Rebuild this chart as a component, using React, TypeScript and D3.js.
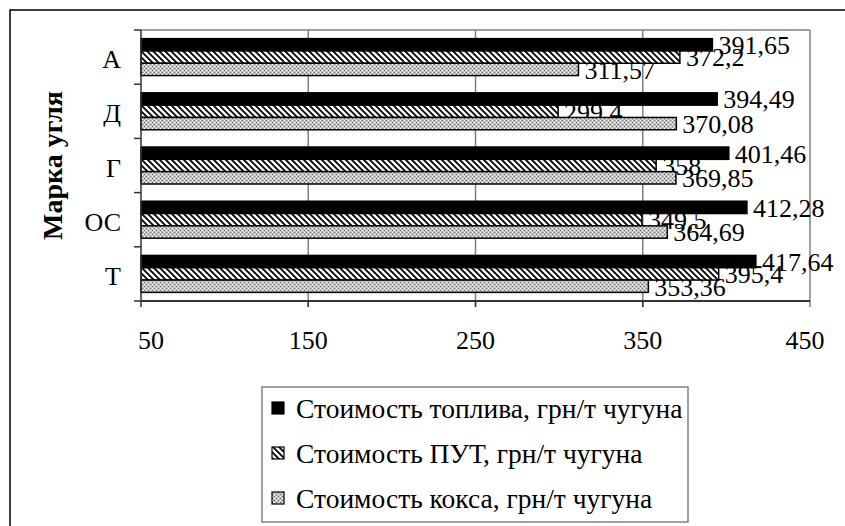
import React from "react";
import * as d3 from "d3";

const categories = ["А", "Д", "Г", "ОС", "Т"];
const seriesNames = [
  "Стоимость топлива, грн/т чугуна",
  "Стоимость ПУТ, грн/т чугуна",
  "Стоимость кокса, грн/т чугуна",
];
const fuelCost = [391.65, 394.49, 401.46, 412.28, 417.64];
const putCost = [372.2, 299.4, 358, 349.5, 395.4];
const cokeCost = [311.57, 370.08, 369.85, 364.69, 353.36];
const xTicks = [50, 150, 250, 350, 450];
const axisTitle = "Марка угля";

const seriesValues = [fuelCost, putCost, cokeCost];
const fills = ["#000000", "url(#hatch)", "url(#dots)"];

const FONT = "Liberation Serif";

export default function App() {
  const W = 845;
  const H = 526;
  const plot = { left: 141, right: 810, top: 30, bottom: 301 };

  const x = d3.scaleLinear().domain([50, 450]).range([plot.left, plot.right]);
  const y = d3
    .scaleBand<string>()
    .domain(categories)
    .range([plot.top, plot.bottom])
    .paddingInner(0)
    .paddingOuter(0);

  const band = y.bandwidth();
  const gapRatio = 1.4;
  const barH = band / (3 + gapRatio);
  const inner = d3
    .scaleBand<number>()
    .domain([0, 1, 2])
    .range([(gapRatio / 2) * barH, band - (gapRatio / 2) * barH])
    .padding(0);

  const fmt = (v: number) => String(v).replace(".", ",");
  const boundaries = [...categories.map((c) => y(c) as number), plot.bottom];
  const txt = (size: number, extra: React.CSSProperties = {}): React.CSSProperties => ({
    fontFamily: FONT,
    fontSize: size,
    ...extra,
  });

  return (
    <div style={{ position: "absolute", left: 0, top: 0 }}>
      <svg width={W} height={H} style={{ display: "block", background: "#fff" }}>
        <defs>
          <pattern id="hatch" patternUnits="userSpaceOnUse" width="6" height="6">
            <rect width="6" height="6" fill="#fff" />
            <path d="M-1,-1 L7,7 M-4,2 L2,8 M2,-4 L8,2" stroke="#000" strokeWidth="1.8" />
          </pattern>
          <pattern id="dots" patternUnits="userSpaceOnUse" width="4" height="4">
            <rect width="4" height="4" fill="#c4c4c4" />
            <rect x="0" y="0" width="1" height="1" fill="#ffffff" />
            <rect x="2" y="2" width="1" height="1" fill="#ffffff" />
            <rect x="2" y="0" width="1" height="1" fill="#6a6a6a" />
            <rect x="0" y="2" width="1" height="1" fill="#6a6a6a" />
          </pattern>
        </defs>

        {/* outer chart frame */}
        <rect x={10} y={10} width={W + 20} height={H + 20} fill="#fff" stroke="#000" strokeWidth={1.5} />

        {/* plot area top border */}
        <line x1={plot.left} x2={plot.right} y1={plot.top} y2={plot.top} stroke="#808080" strokeWidth={1.5} />

        {/* gridlines */}
        {xTicks.slice(1).map((t) => (
          <line key={t} x1={x(t)} x2={x(t)} y1={plot.top} y2={plot.bottom + 6} stroke="#808080" strokeWidth={1.5} />
        ))}

        {/* data labels (drawn under bars, as in the reference) */}
        {categories.map((c, ci) =>
          seriesValues.map((vals, si) => {
            const yy = (y(c) as number) + (inner(si) as number) + inner.bandwidth() / 2;
            return (
              <text key={`l-${c}-${si}`} x={x(vals[ci]) + 6} y={yy} dy="0.36em" style={txt(26)} fill="#000">
                {fmt(vals[ci])}
              </text>
            );
          })
        )}

        {/* bars */}
        {categories.map((c, ci) =>
          seriesValues.map((vals, si) => (
            <rect
              key={`b-${c}-${si}`}
              x={x(50)}
              y={(y(c) as number) + (inner(si) as number)}
              width={x(vals[ci]) - x(50)}
              height={inner.bandwidth()}
              fill={fills[si]}
              stroke="#000"
              strokeWidth={1.5}
            />
          ))
        )}

        {/* axes */}
        <line x1={plot.left} x2={plot.left} y1={plot.top} y2={plot.bottom + 6} stroke="#333" strokeWidth={1.5} />
        <line x1={plot.left} x2={plot.right} y1={plot.bottom} y2={plot.bottom} stroke="#333" strokeWidth={2} />
        {boundaries.map((b, i) => (
          <line key={`ct-${i}`} x1={plot.left - 7} x2={plot.left} y1={b} y2={b} stroke="#333" strokeWidth={1.5} />
        ))}
        {xTicks.slice(1, -1).map((t) => (
          <line key={`xt-${t}`} x1={x(t)} x2={x(t)} y1={plot.bottom} y2={plot.bottom + 6} stroke="#333" strokeWidth={1.5} />
        ))}

        {/* x tick labels */}
        {xTicks.map((t, i) => (
          <text
            key={`xl-${t}`}
            x={x(t) + (i === 0 ? 10 : i === xTicks.length - 1 ? -5 : 0)}
            y={340}
            dy="0.35em"
            textAnchor="middle"
            style={txt(26)}
          >
            {t}
          </text>
        ))}

        {/* category labels */}
        {categories.map((c) => (
          <text
            key={`cl-${c}`}
            x={121}
            y={(y(c) as number) + band / 2 + 2}
            dy="0.35em"
            textAnchor="end"
            style={txt(26)}
          >
            {c}
          </text>
        ))}

        {/* axis title */}
        <text
          transform={`translate(52, ${(plot.top + plot.bottom) / 2}) rotate(-90)`}
          textAnchor="middle"
          dy="0.35em"
          style={txt(28, { fontWeight: "bold" })}
        >
          {axisTitle}
        </text>

        {/* legend */}
        <rect x={262} y={387} width={426} height={135} fill="#fff" stroke="#808080" strokeWidth={1.5} />
        {seriesNames.map((n, i) => {
          const cy = 408 + i * 45;
          return (
            <g key={`lg-${i}`}>
              <rect x={272} y={cy - 6} width={12} height={12} fill={fills[i]} stroke="#000" strokeWidth={1.2} />
              <text x={296} y={cy} dy="0.35em" style={txt(27.5)}>
                {n}
              </text>
            </g>
          );
        })}
      </svg>
    </div>
  );
}
